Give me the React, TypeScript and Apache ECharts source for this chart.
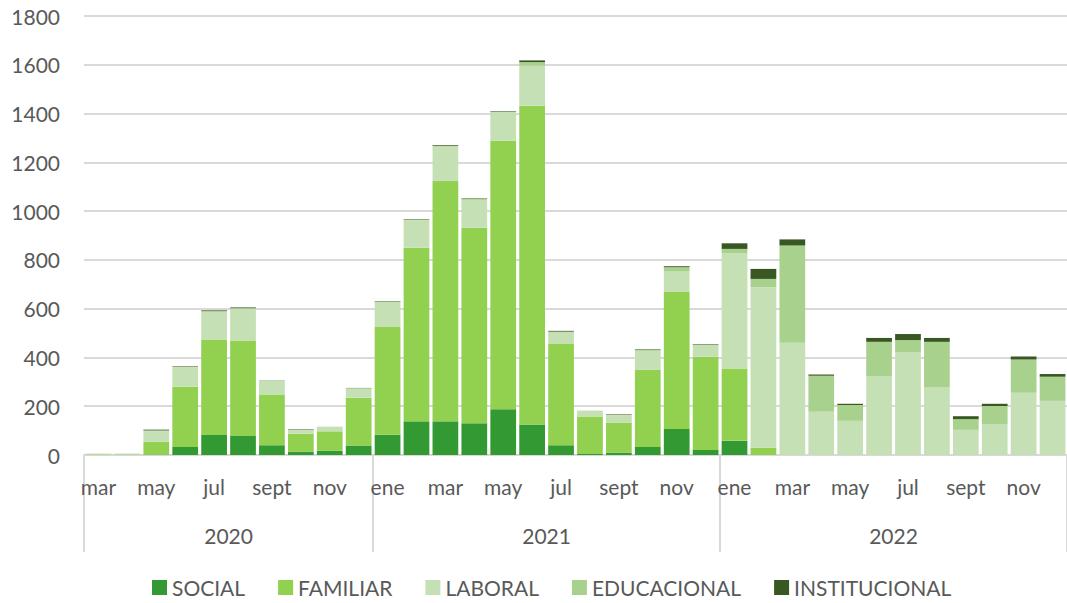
import React, { useEffect, useRef } from "react";
import * as echarts from "echarts";

const years = ["2020", "2021", "2022"];
const monthsPerYear = [
  ["mar", "abr", "may", "jun", "jul", "ago", "sept", "oct", "nov", "dic"],
  ["ene", "feb", "mar", "abr", "may", "jun", "jul", "ago", "sept", "oct", "nov", "dic"],
  ["ene", "feb", "mar", "abr", "may", "jun", "jul", "ago", "sept", "oct", "nov", "dic"],
];

const social = [0, 0, 2, 33, 82, 78, 40, 14, 18, 39, 83, 138, 138, 130, 188, 125, 40, 4, 10, 33, 107, 21, 58, 0, 0, 0, 0, 0, 0, 0, 0, 0, 0, 0];
const familiar = [2, 2, 52, 247, 392, 391, 206, 73, 79, 196, 442, 712, 985, 802, 1100, 1307, 417, 154, 123, 316, 563, 382, 297, 30, 0, 0, 0, 0, 0, 0, 0, 0, 0, 0];
const laboral = [4, 4, 44, 80, 113, 131, 56, 14, 18, 37, 100, 113, 141, 114, 118, 164, 45, 23, 30, 78, 82, 46, 472, 658, 460, 177, 140, 322, 421, 279, 103, 127, 255, 222];
const educacional = [0, 0, 3, 2, 3, 2, 2, 2, 1, 2, 3, 2, 3, 4, 2, 15, 4, 1, 2, 5, 18, 4, 18, 34, 399, 148, 65, 142, 50, 185, 44, 74, 137, 99];
const institucional = [0, 0, 3, 2, 3, 3, 1, 2, 0, 1, 2, 2, 3, 2, 2, 7, 3, 0, 2, 2, 4, 2, 23, 41, 25, 5, 5, 16, 25, 16, 12, 9, 12, 11];

const seriesNames = ["SOCIAL", "FAMILIAR", "LABORAL", "EDUCACIONAL", "INSTITUCIONAL"];
const seriesColors = ["#339933", "#92D050", "#C5E0B4", "#A9D18E", "#385723"];
const seriesData = [social, familiar, laboral, educacional, institucional];

const FONT = "Lato, 'Noto Sans', sans-serif";
const TEXT = "#595959";
const GRID = "#D9D9D9";

export default function App() {
  const ref = useRef<HTMLDivElement>(null);

  useEffect(() => {
    if (!ref.current) return;
    const chart = echarts.init(ref.current, null, { renderer: "svg" });

    const categories: string[] = [];
    monthsPerYear.forEach((ms, yi) => ms.forEach((m) => categories.push(years[yi] + "-" + m)));
    const total = categories.length;

    const bounds: number[] = [0];
    const centers: number[] = [];
    let acc = 0;
    monthsPerYear.forEach((ms) => {
      centers.push(acc + ms.length / 2);
      acc += ms.length;
      bounds.push(acc);
    });

    chart.setOption({
      animation: false,
      textStyle: { fontFamily: FONT },
      grid: { left: 84, top: 16, width: 986, bottom: 148, containLabel: false },
      legend: {
        bottom: 0,
        left: 147,
        icon: "rect",
        itemWidth: 15,
        itemHeight: 15,
        itemGap: 33,
        textStyle: { color: TEXT, fontSize: 21, fontFamily: FONT },
        data: seriesNames,
      },
      xAxis: [
        {
          type: "category",
          data: categories,
          axisLine: { show: true, lineStyle: { color: GRID, width: 2 } },
          axisTick: { show: false },
          axisLabel: {
            interval: 1,
            color: TEXT,
            fontSize: 21,
            fontFamily: FONT,
            margin: 21,
            formatter: (v: string) => v.split("-")[1],
          },
        },
        {
          type: "value",
          position: "bottom",
          min: 0,
          max: total,
          axisLine: { show: false },
          splitLine: { show: false },
          axisTick: {
            show: true,
            customValues: bounds,
            length: 97,
            lineStyle: { color: GRID, width: 2 },
          },
          axisLabel: {
            customValues: centers,
            color: TEXT,
            fontSize: 21,
            fontFamily: FONT,
            margin: 70,
            formatter: (v: number) => {
              const i = centers.indexOf(v);
              return i >= 0 ? years[i] : "";
            },
          },
        },
      ],
      yAxis: {
        type: "value",
        min: 0,
        max: 1800,
        interval: 200,
        axisLine: { show: false },
        axisTick: { show: false },
        splitLine: { lineStyle: { color: GRID, width: 2 } },
        axisLabel: {
          color: TEXT,
          fontSize: 21,
          fontFamily: FONT,
          margin: 24,
          formatter: (v: number) => String(v),
        },
      },
      series: seriesNames.map((name, i) => ({
        name,
        type: "bar",
        stack: "total",
        xAxisIndex: 0,
        barCategoryGap: "11%",
        itemStyle: { color: seriesColors[i] },
        data: seriesData[i],
      })),
    });

    return () => chart.dispose();
  }, []);

  return (
    <div
      ref={ref}
      style={{ position: "fixed", left: 0, top: 0, width: 1067, height: 603, background: "#fff" }}
    />
  );
}
